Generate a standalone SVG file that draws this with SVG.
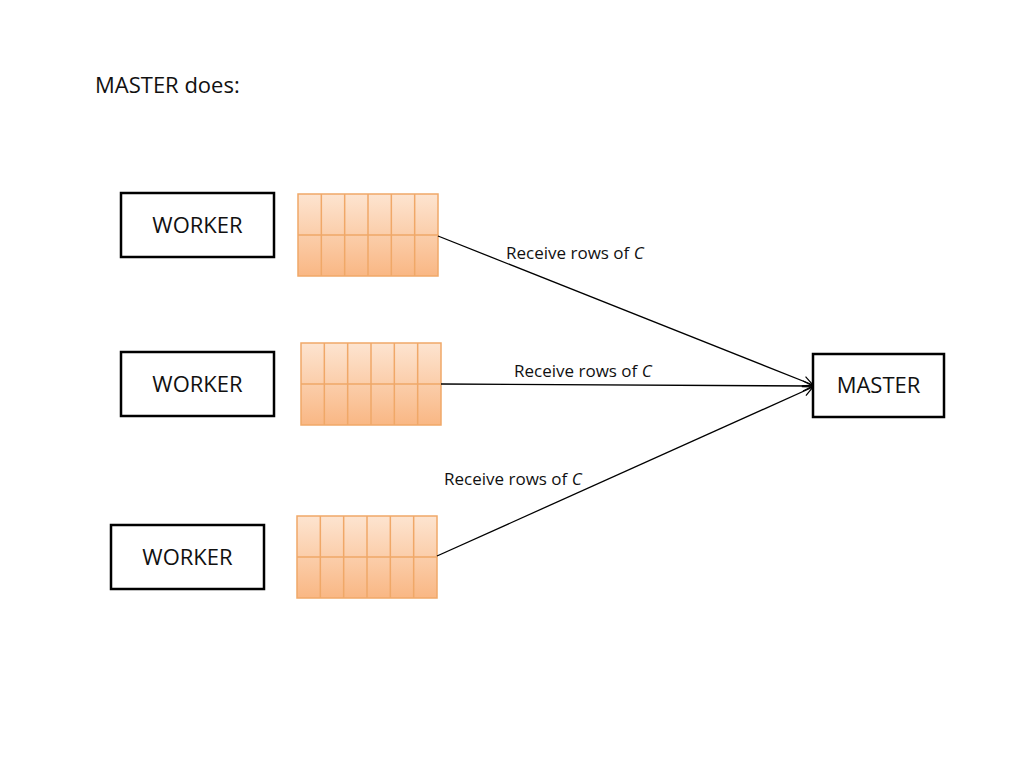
<svg xmlns="http://www.w3.org/2000/svg" width="1024" height="768" viewBox="0 0 1024 768">
<defs>
<linearGradient id="cell" x1="0" y1="0" x2="0" y2="1">
<stop offset="0" stop-color="#fde4d0"/>
<stop offset="1" stop-color="#f9b784"/>
</linearGradient>
<marker id="arr" viewBox="0 0 12 12" refX="11" refY="6" markerWidth="12" markerHeight="12" markerUnits="userSpaceOnUse" orient="auto">
<path d="M1,1 L11,6 L1,11" fill="none" stroke="#000" stroke-width="1.2"/>
</marker>
</defs>
<style>
.box{fill:#fff;stroke:#000;stroke-width:2.5}
.lbl{font-family:"Open Sans","Liberation Sans",sans-serif;font-size:22px;fill:#111}
.edge{font-family:"Open Sans","Liberation Sans",sans-serif;font-size:17px;fill:#111}
.conn{stroke:#000;stroke-width:1.3;fill:none}
.mbg{fill:url(#cell)}
.mline{stroke:#f0a868;stroke-width:1.5;fill:none}
</style>
<rect width="1024" height="768" fill="#fff"/>
<text x="95" y="93" class="lbl">MASTER does:</text>

<g id="worker1"><rect x="121" y="193" width="153" height="64" class="box"/><text x="197.5" y="233" text-anchor="middle" class="lbl">WORKER</text></g>
<g id="worker2"><rect x="121" y="352" width="153" height="64" class="box"/><text x="197.5" y="392" text-anchor="middle" class="lbl">WORKER</text></g>
<g id="worker3"><rect x="111" y="525" width="153" height="64" class="box"/><text x="187.5" y="565" text-anchor="middle" class="lbl">WORKER</text></g>
<g id="master"><rect x="813" y="354" width="131" height="63" class="box"/><text x="878.5" y="393" text-anchor="middle" class="lbl">MASTER</text></g>

<g id="matrix1" transform="translate(298,194)">
<rect width="140" height="82" class="mbg"/>
<path d="M23.33,0V82M46.67,0V82M70,0V82M93.33,0V82M116.67,0V82M0,41H140" class="mline"/>
<rect width="140" height="82" class="mline"/>
</g>
<g id="matrix2" transform="translate(301,343)">
<rect width="140" height="82" class="mbg"/>
<path d="M23.33,0V82M46.67,0V82M70,0V82M93.33,0V82M116.67,0V82M0,41H140" class="mline"/>
<rect width="140" height="82" class="mline"/>
</g>
<g id="matrix3" transform="translate(297,516)">
<rect width="140" height="82" class="mbg"/>
<path d="M23.33,0V82M46.67,0V82M70,0V82M93.33,0V82M116.67,0V82M0,41H140" class="mline"/>
<rect width="140" height="82" class="mline"/>
</g>

<g id="connectors">
<line x1="438" y1="236" x2="813" y2="385" class="conn" marker-end="url(#arr)"/>
<line x1="441" y1="384" x2="813" y2="386" class="conn" marker-end="url(#arr)"/>
<line x1="437" y1="556" x2="813" y2="387" class="conn" marker-end="url(#arr)"/>
<text x="506" y="259" class="edge">Receive rows of <tspan font-style="italic">C</tspan></text>
<text x="514" y="377" class="edge">Receive rows of <tspan font-style="italic">C</tspan></text>
<text x="444" y="485" class="edge">Receive rows of <tspan font-style="italic">C</tspan></text>
</g>
</svg>
